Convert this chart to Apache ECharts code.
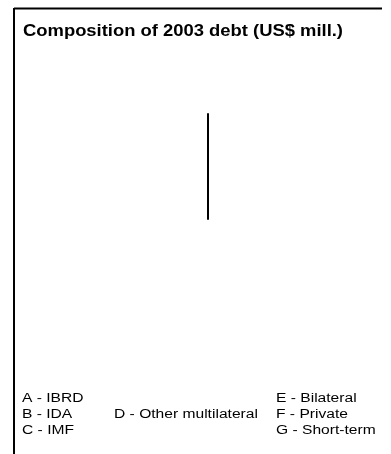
<!DOCTYPE html>
<html>
<head>
<meta charset="utf-8">
<script src="https://cdn.jsdelivr.net/npm/echarts@6/dist/echarts.min.js"></script>
<style>
  html, body { margin: 0; padding: 0; background: #fff; }
  #chart { width: 391px; height: 454px; }
</style>
</head>
<body>
<div id="chart"></div>
<script>
// Debt categories and their 2003 amounts (US$ mill.)
const categories = ['A - IBRD', 'B - IDA', 'C - IMF', 'D - Other multilateral', 'E - Bilateral', 'F - Private', 'G - Short-term'];
const debtValues = [0, 0, 0, 0, 0, 0, 0];
const chartTitle = 'Composition of 2003 debt (US$ mill.)';

const FONT = '"Liberation Sans", Arial, sans-serif';

// Key laid out in three columns: A-C, D, E-G
const keyColumns = [
  { x: 22, items: [0, 1, 2], startRow: 0 },
  { x: 114, items: [3], startRow: 1 },
  { x: 276, items: [4, 5, 6], startRow: 0 }
];
const keyTop = 399, keyRowStep = 16;

const keyTexts = [];
keyColumns.forEach(col => {
  col.items.forEach((idx, i) => {
    keyTexts.push({
      type: 'text',
      x: col.x,
      y: keyTop + (col.startRow + i) * keyRowStep,
      scaleX: 1.3,
      style: { text: categories[idx], fill: '#000', font: '12px ' + FONT, verticalAlign: 'middle' }
    });
  });
});

const chart = echarts.init(document.getElementById('chart'), null, { renderer: 'canvas' });
chart.setOption({
  animation: false,
  backgroundColor: '#fff',
  polar: { center: [208, 219], radius: 105 },
  angleAxis: { show: false, startAngle: 90, min: 0, max: 1 },
  radiusAxis: {
    min: 0, max: 1,
    axisLine: { show: true, lineStyle: { color: '#000', width: 2 } },
    axisTick: { show: false },
    axisLabel: { show: false },
    splitLine: { show: false }
  },
  series: [{
    type: 'pie',
    center: [208, 219],
    radius: 105,
    startAngle: 90,
    stillShowZeroSum: false,
    label: { show: false },
    labelLine: { show: false },
    itemStyle: { borderColor: '#000', borderWidth: 1 },
    data: categories.map((name, i) => ({ name, value: debtValues[i] }))
  }],
  graphic: [
    // frame edges
    { type: 'line', shape: { x1: 14, y1: 8.5, x2: 382, y2: 8.5 }, style: { stroke: '#000', lineWidth: 2 } },
    { type: 'line', shape: { x1: 14, y1: 8, x2: 14, y2: 454 }, style: { stroke: '#000', lineWidth: 2 } },
    // title
    {
      type: 'text', x: 23, y: 32, scaleX: 1.15,
      style: { text: chartTitle, fill: '#000', font: 'bold 16px ' + FONT, verticalAlign: 'middle' }
    }
  ].concat(keyTexts)
});
</script>
</body>
</html>
